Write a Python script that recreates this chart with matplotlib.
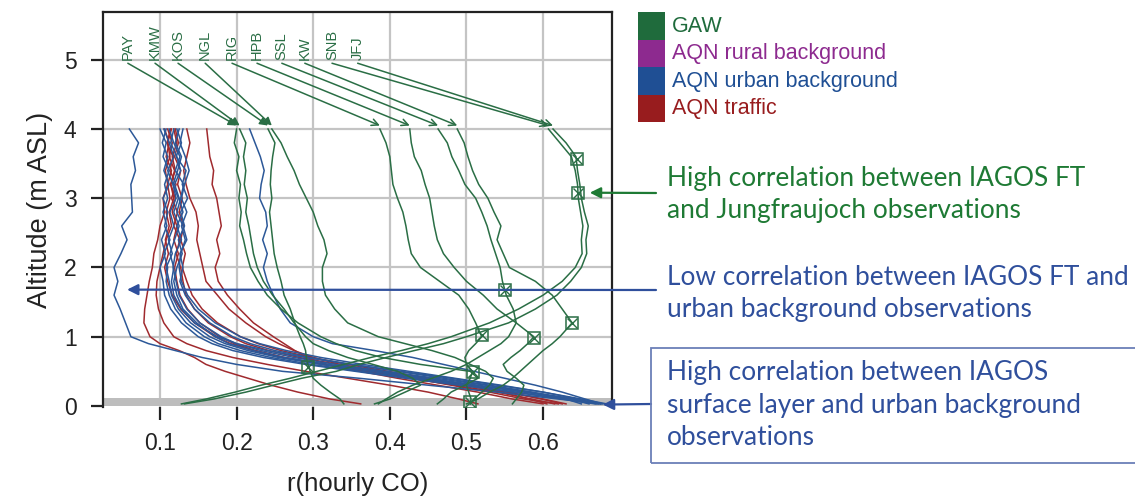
import matplotlib
matplotlib.use("Agg")
import matplotlib.pyplot as plt
from matplotlib.patches import Rectangle

# ---------------- data ----------------
alt = [4.0, 3.8, 3.6, 3.4, 3.2, 3.0, 2.8, 2.6, 2.4, 2.2, 2.0, 1.8, 1.6, 1.4, 1.2,
       1.0, 0.9, 0.8, 0.7, 0.6, 0.5, 0.4, 0.3, 0.2, 0.1, 0.03]

# GAW stations (green)
stations = ["PAY", "KMW", "KOS", "NGL", "RIG", "HPB", "SSL", "KW", "SNB", "JFJ"]
r_PAY = [0.200, 0.197, 0.203, 0.200, 0.205, 0.203, 0.206, 0.204, 0.209, 0.213, 0.218, 0.228, 0.240, 0.258, 0.280,
         0.310, 0.330, 0.355, 0.390, 0.440, 0.505, 0.515, 0.498, 0.480, 0.470, 0.462]
r_KMW = [0.204, 0.212, 0.209, 0.212, 0.210, 0.214, 0.212, 0.216, 0.219, 0.222, 0.227, 0.235, 0.247, 0.262, 0.275,
         0.290, 0.300, 0.320, 0.345, 0.378, 0.410, 0.430, 0.440, 0.420, 0.400, 0.380]
r_KOS = [0.241, 0.250, 0.247, 0.245, 0.244, 0.246, 0.243, 0.245, 0.247, 0.249, 0.253, 0.258, 0.262, 0.270, 0.276,
         0.283, 0.287, 0.290, 0.291, 0.293, 0.296, 0.300, 0.310, 0.322, 0.335, 0.340]
r_NGL = [0.246, 0.258, 0.266, 0.275, 0.282, 0.291, 0.300, 0.306, 0.314, 0.318, 0.312, 0.312, 0.316, 0.328, 0.345,
         0.385, 0.420, 0.455, 0.485, 0.505, 0.525, 0.535, 0.530, 0.520, 0.510, 0.505]
r_RIG = [0.387, 0.395, 0.400, 0.402, 0.404, 0.410, 0.417, 0.421, 0.424, 0.428, 0.440, 0.465, 0.490, 0.503, 0.512,
         0.520, 0.512, 0.503, 0.498, 0.500, 0.508, 0.505, 0.500, 0.503, 0.506, 0.505]
r_HPB = [0.426, 0.428, 0.432, 0.441, 0.446, 0.452, 0.455, 0.458, 0.462, 0.470, 0.484, 0.500, 0.522, 0.540, 0.565,
         0.588, 0.580, 0.570, 0.558, 0.548, 0.553, 0.565, 0.575, 0.572, 0.565, 0.560]
r_SSL = [0.463, 0.475, 0.481, 0.490, 0.498, 0.512, 0.520, 0.527, 0.532, 0.538, 0.544, 0.547, 0.552, 0.561, 0.565,
         0.555, 0.545, 0.530, 0.515, 0.500, 0.480, 0.455, 0.430, 0.410, 0.395, 0.385]
r_KW = [0.488, 0.497, 0.502, 0.508, 0.516, 0.528, 0.536, 0.545, 0.540, 0.548, 0.556, 0.590, 0.612, 0.625, 0.638,
        0.622, 0.612, 0.600, 0.590, 0.580, 0.570, 0.560, 0.548, 0.530, 0.515, 0.500]
r_SNB = [0.607, 0.622, 0.637, 0.642, 0.645, 0.646, 0.649, 0.652, 0.650, 0.651, 0.642, 0.625, 0.600, 0.568, 0.530,
         0.480, 0.450, 0.415, 0.375, 0.340, 0.305, 0.270, 0.232, 0.198, 0.160, 0.128]
r_JFJ = [0.613, 0.630, 0.643, 0.645, 0.648, 0.650, 0.654, 0.659, 0.656, 0.657, 0.650, 0.636, 0.618, 0.590, 0.555,
         0.500, 0.470, 0.432, 0.395, 0.360, 0.330, 0.285, 0.248, 0.212, 0.170, 0.132]
gaw_curves = [r_PAY, r_KMW, r_KOS, r_NGL, r_RIG, r_HPB, r_SSL, r_KW, r_SNB, r_JFJ]
label_x = [0.058, 0.0935, 0.1235, 0.159, 0.194, 0.2266, 0.259, 0.289, 0.3245, 0.358]
marker_r = [0.509, 0.293, 0.505, 0.520, 0.588, 0.550, 0.638, 0.646, 0.644]
marker_alt = [0.49, 0.56, 0.06, 1.03, 0.98, 1.68, 1.20, 3.08, 3.57]

# AQN urban background (blue)
r_U0 = [0.060, 0.072, 0.065, 0.068, 0.062, 0.063, 0.064, 0.050, 0.057, 0.049, 0.040, 0.045, 0.040, 0.048, 0.055,
        0.062, 0.085, 0.120, 0.155, 0.200, 0.260, 0.360, 0.450, 0.540, 0.620, 0.675]
r_U1 = [0.217, 0.224, 0.231, 0.236, 0.232, 0.230, 0.238, 0.240, 0.234, 0.240, 0.235, 0.240, 0.248, 0.257, 0.270,
        0.300, 0.325, 0.380, 0.430, 0.470, 0.510, 0.550, 0.590, 0.625, 0.655, 0.677]
r_U2 = [0.100, 0.108, 0.104, 0.112, 0.106, 0.110, 0.104, 0.109, 0.102, 0.107, 0.100, 0.104, 0.106, 0.114, 0.128,
        0.150, 0.168, 0.195, 0.235, 0.290, 0.355, 0.420, 0.490, 0.560, 0.630, 0.680]
r_U3 = [0.105, 0.112, 0.118, 0.110, 0.117, 0.121, 0.113, 0.118, 0.111, 0.116, 0.108, 0.112, 0.115, 0.124, 0.140,
        0.165, 0.185, 0.215, 0.255, 0.310, 0.375, 0.440, 0.510, 0.575, 0.640, 0.675]
r_U4 = [0.118, 0.114, 0.122, 0.127, 0.119, 0.125, 0.130, 0.122, 0.128, 0.120, 0.117, 0.121, 0.125, 0.135, 0.152,
        0.180, 0.200, 0.232, 0.275, 0.330, 0.395, 0.460, 0.525, 0.585, 0.640, 0.670]
r_U5 = [0.122, 0.128, 0.121, 0.134, 0.129, 0.136, 0.127, 0.132, 0.124, 0.129, 0.122, 0.118, 0.122, 0.130, 0.148,
        0.172, 0.190, 0.222, 0.262, 0.320, 0.385, 0.450, 0.515, 0.578, 0.635, 0.660]
r_U6 = [0.112, 0.118, 0.126, 0.120, 0.131, 0.127, 0.122, 0.130, 0.135, 0.126, 0.130, 0.126, 0.133, 0.145, 0.165,
        0.195, 0.218, 0.250, 0.295, 0.350, 0.410, 0.470, 0.530, 0.585, 0.630, 0.650]
r_U7 = [0.108, 0.103, 0.110, 0.105, 0.112, 0.104, 0.110, 0.106, 0.113, 0.105, 0.110, 0.108, 0.112, 0.120, 0.134,
        0.158, 0.176, 0.205, 0.245, 0.298, 0.362, 0.430, 0.500, 0.565, 0.625, 0.668]
r_U8 = [0.125, 0.120, 0.128, 0.123, 0.117, 0.124, 0.118, 0.125, 0.119, 0.113, 0.118, 0.115, 0.118, 0.128, 0.145,
        0.175, 0.200, 0.240, 0.290, 0.350, 0.415, 0.480, 0.540, 0.600, 0.650, 0.683]
r_U9 = [0.130, 0.126, 0.133, 0.138, 0.132, 0.128, 0.135, 0.128, 0.133, 0.127, 0.125, 0.128, 0.136, 0.150, 0.172,
        0.205, 0.230, 0.265, 0.310, 0.365, 0.425, 0.485, 0.545, 0.600, 0.645, 0.672]
urban_curves = [r_U0, r_U1, r_U2, r_U3, r_U4, r_U5, r_U6, r_U7, r_U8, r_U9]

# AQN traffic (red)
r_T0 = [0.161, 0.163, 0.165, 0.170, 0.168, 0.174, 0.177, 0.180, 0.174, 0.178, 0.172, 0.176, 0.188, 0.204, 0.222,
        0.248, 0.262, 0.276, 0.292, 0.318, 0.362, 0.410, 0.462, 0.515, 0.560, 0.600]
r_T1 = [0.135, 0.139, 0.135, 0.131, 0.134, 0.139, 0.147, 0.150, 0.148, 0.152, 0.156, 0.160, 0.175, 0.190, 0.212,
        0.238, 0.255, 0.275, 0.300, 0.335, 0.380, 0.430, 0.480, 0.530, 0.575, 0.620]
r_T2 = [0.115, 0.110, 0.113, 0.107, 0.110, 0.104, 0.106, 0.100, 0.097, 0.092, 0.090, 0.086, 0.083, 0.080, 0.079,
        0.087, 0.100, 0.125, 0.145, 0.160, 0.185, 0.215, 0.245, 0.280, 0.322, 0.362]
r_T3 = [0.118, 0.122, 0.116, 0.120, 0.114, 0.118, 0.112, 0.115, 0.108, 0.104, 0.100, 0.096, 0.095, 0.098, 0.105,
        0.118, 0.135, 0.160, 0.195, 0.240, 0.290, 0.345, 0.400, 0.450, 0.490, 0.515]
r_T4 = [0.110, 0.116, 0.112, 0.119, 0.114, 0.120, 0.116, 0.122, 0.118, 0.124, 0.119, 0.122, 0.126, 0.136, 0.152,
        0.178, 0.197, 0.225, 0.262, 0.312, 0.370, 0.428, 0.485, 0.540, 0.585, 0.615]
r_T5 = [0.114, 0.109, 0.117, 0.113, 0.121, 0.115, 0.123, 0.118, 0.126, 0.121, 0.127, 0.130, 0.134, 0.145, 0.163,
        0.192, 0.212, 0.242, 0.282, 0.332, 0.390, 0.448, 0.503, 0.555, 0.600, 0.630]
r_T6 = [0.120, 0.124, 0.119, 0.127, 0.123, 0.129, 0.125, 0.131, 0.127, 0.133, 0.129, 0.135, 0.142, 0.155, 0.175,
        0.205, 0.228, 0.258, 0.298, 0.345, 0.398, 0.450, 0.500, 0.545, 0.582, 0.605]
r_T7 = [0.106, 0.112, 0.108, 0.115, 0.110, 0.113, 0.108, 0.112, 0.107, 0.111, 0.106, 0.110, 0.116, 0.127, 0.145,
        0.172, 0.192, 0.222, 0.262, 0.315, 0.375, 0.438, 0.498, 0.552, 0.598, 0.625]
traffic_curves = [r_T0, r_T1, r_T2, r_T3, r_T4, r_T5, r_T6, r_T7]

legend_labels = ["GAW", "AQN rural background", "AQN urban background", "AQN traffic"]
legend_colors = ["#1f6b3c", "#8d2a8f", "#1f4f94", "#981c1e"]

xticks = [0.1, 0.2, 0.3, 0.4, 0.5, 0.6]
yticks = [0, 1, 2, 3, 4, 5]

# ---------------- figure ----------------
W, H = 1135, 499
fig = plt.figure(figsize=(W / 100, H / 100), dpi=100)
ax = fig.add_axes([103 / W, 1 - 407 / H, (612 - 103) / W, (407 - 12) / H])
ax.set_xlim(0.0256, 0.690)
ax.set_ylim(-0.015, 5.69)

FONT = "Liberation Sans"
GRID = "#c4c4c4"
for x in xticks:
    ax.axvline(x, color=GRID, lw=1.6, zorder=0)
for y in yticks[1:]:
    ax.axhline(y, color=GRID, lw=1.6, zorder=0)
ax.axhspan(0, 0.12, color="#bdbdbd", lw=0, zorder=0.5)

c_gaw = "#2a6e45"
c_urb = "#2c5898"
c_tra = "#a02a2e"
for r in traffic_curves:
    ax.plot(r, alt, color=c_tra, lw=1.1, zorder=2)
for r in urban_curves:
    ax.plot(r, alt, color=c_urb, lw=1.1, zorder=2)
for r in gaw_curves:
    ax.plot(r, alt, color=c_gaw, lw=1.1, zorder=3)
ax.plot(marker_r, marker_alt, ls="none", marker="s", ms=9, mfc="none", mec=c_gaw, mew=1.1, zorder=4)
ax.plot(marker_r, marker_alt, ls="none", marker="x", ms=7, mec=c_gaw, mew=1.0, zorder=4)

# station labels with arrows
for name, lx, r in zip(stations, label_x, gaw_curves):
    ax.text(lx, 4.99, name, rotation=90, ha="center", va="bottom", color=c_gaw,
            fontsize=10.5, family=FONT)
    filled = name in ("PAY", "KMW", "KOS", "NGL")
    ax.annotate("", xy=(r[0], 4.05), xytext=(lx, 4.95),
                arrowprops=dict(arrowstyle="-|>" if filled else "->", color=c_gaw, lw=1.1,
                                mutation_scale=12, shrinkA=0, shrinkB=0), zorder=5)

# axes styling
for s in ("left", "top", "right"):
    ax.spines[s].set_linewidth(1.6)
    ax.spines[s].set_color("#222222")
ax.spines["bottom"].set_visible(False)
ax.set_xticks(xticks)
ax.set_xticklabels([f"{v:.1f}" for v in xticks])
ax.set_yticks(yticks)
ax.tick_params(axis="both", direction="out", length=9, width=1.6, color="#222222",
               labelsize=16.5, labelcolor="#222222")
ax.tick_params(axis="x", pad=9)
ax.tick_params(axis="y", pad=10)
for t in ax.get_xticklabels() + ax.get_yticklabels():
    t.set_fontfamily(FONT)
ax.set_xlabel("r(hourly CO)", fontsize=18.5, family=FONT, color="#222222", labelpad=12)
ax.set_ylabel("Altitude (m ASL)", fontsize=19.5, family=FONT, color="#222222", labelpad=8)

# legend (colour blocks + coloured text)
for i, (lab, col) in enumerate(zip(legend_labels, legend_colors)):
    y0 = 12 + i * 27.5
    fig.patches.append(Rectangle((638 / W, 1 - (y0 + 27.5) / H), 27 / W, 27.5 / H,
                                 transform=fig.transFigure, color=col, lw=0))
    fig.text(672 / W, 1 - (y0 + 14) / H, lab, color=col, fontsize=15.5, family=FONT,
             ha="left", va="center")

# annotations
ANN = "Lato"
c_gtxt = "#1e7a34"
c_btxt = "#2f4f9c"
xt = 667 / W
for txt, yb, col in [("High correlation between IAGOS FT", 186, c_gtxt),
                     ("and Jungfraujoch observations", 218, c_gtxt),
                     ("Low correlation between IAGOS FT and", 285, c_btxt),
                     ("urban background observations", 317, c_btxt),
                     ("High correlation between IAGOS", 380, c_btxt),
                     ("surface layer and urban background", 413, c_btxt),
                     ("observations", 445, c_btxt)]:
    fig.text(xt, 1 - yb / H, txt, color=col, fontsize=18.9, family=ANN,
             ha="left", va="baseline")

fig.patches.append(Rectangle((651 / W, 1 - 463 / H), 500 / W, 115 / H, transform=fig.transFigure,
                             fill=False, ec="#6b7fb8", lw=1.3))

arrow_kw = dict(arrowstyle="-|>", lw=1.6, mutation_scale=16, shrinkA=0, shrinkB=0)
ax.annotate("", xy=(0.661, 3.08), xycoords="data", xytext=(656 / W, 1 - 193 / H),
            textcoords="figure fraction", arrowprops=dict(color=c_gtxt, **arrow_kw),
            annotation_clip=False, zorder=6)
ax.annotate("", xy=(0.057, 1.68), xycoords="data", xytext=(656 / W, 1 - 290 / H),
            textcoords="figure fraction", arrowprops=dict(color=c_btxt, **arrow_kw),
            annotation_clip=False, zorder=6)
ax.annotate("", xy=(0.678, 0.02), xycoords="data", xytext=(651 / W, 1 - 404 / H),
            textcoords="figure fraction", arrowprops=dict(color=c_btxt, **arrow_kw),
            annotation_clip=False, zorder=6)

fig.savefig("out.png", dpi=100)
